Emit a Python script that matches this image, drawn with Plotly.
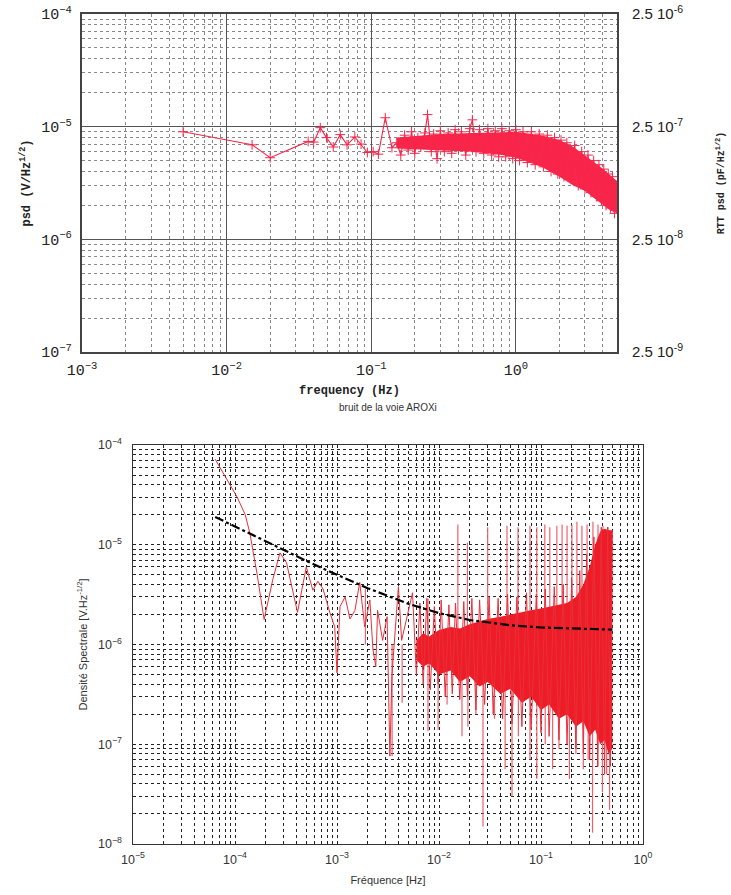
import math
import plotly.graph_objects as go

# ---------------- top panel : psd (V/Hz^1/2) ----------------
top_f_sparse = [0.005, 0.015, 0.02, 0.0366, 0.04, 0.0444, 0.049, 0.0546, 0.061, 0.068,
                0.077, 0.085, 0.094, 0.103, 0.112, 0.125, 0.139, 0.15]
top_y_sparse = [9.0e-6, 6.9e-6, 5.3e-6, 7.4e-6, 7.3e-6, 9.8e-6, 8.0e-6, 6.6e-6, 8.5e-6, 6.9e-6,
                8.1e-6, 7.0e-6, 5.9e-6, 6.0e-6, 5.7e-6, 1.2e-5, 6.5e-6, 7.2e-6]

top_f_dense = [0.15, 0.16, 0.17, 0.18, 0.19, 0.2, 0.21, 0.22, 0.235, 0.245, 0.26, 0.27, 0.285,
               0.3, 0.32, 0.34, 0.36, 0.38, 0.4, 0.42, 0.45, 0.48, 0.5, 0.53, 0.56, 0.6, 0.64,
               0.68, 0.72, 0.76, 0.8, 0.85, 0.9, 0.95, 1.0, 1.06, 1.12, 1.2, 1.28, 1.36, 1.45,
               1.55, 1.65, 1.75, 1.85, 1.95, 2.05, 2.15, 2.25, 2.4, 2.55, 2.7, 2.85, 3.0, 3.15,
               3.3, 3.45, 3.6, 3.75, 3.9, 4.05, 4.2, 4.35, 4.5, 4.65, 4.8, 4.95]
top_y_dense = [7.8e-6, 5.6e-6, 8.4e-6, 6.2e-6, 9.0e-6, 5.8e-6, 8.0e-6, 6.6e-6, 8.8e-6, 1.28e-5,
               6.0e-6, 8.6e-6, 5.2e-6, 9.2e-6, 6.0e-6, 8.8e-6, 5.8e-6, 9.4e-6, 6.4e-6, 9.0e-6,
               5.6e-6, 9.6e-6, 1.15e-5, 6.0e-6, 9.4e-6, 5.8e-6, 9.6e-6, 5.6e-6, 9.2e-6, 5.4e-6,
               9.6e-6, 5.4e-6, 9.2e-6, 5.2e-6, 9.4e-6, 5.0e-6, 9.0e-6, 4.8e-6, 9.0e-6, 4.6e-6,
               8.6e-6, 4.4e-6, 8.4e-6, 4.0e-6, 8.0e-6, 3.8e-6, 7.6e-6, 3.6e-6, 7.2e-6, 3.4e-6,
               6.8e-6, 3.0e-6, 6.0e-6, 2.8e-6, 5.6e-6, 2.6e-6, 5.0e-6, 2.4e-6, 4.6e-6, 2.2e-6,
               4.2e-6, 2.0e-6, 3.8e-6, 1.9e-6, 3.6e-6, 1.7e-6, 3.0e-6]

top_band_f = [0.15, 0.3, 0.5, 0.8, 1.0, 1.5, 2.0, 2.5, 3.0, 3.5, 4.0, 4.5, 5.0]
top_band_hi = [8.0e-6, 8.6e-6, 8.8e-6, 9.0e-6, 9.0e-6, 8.4e-6, 7.6e-6, 6.6e-6, 5.6e-6, 4.8e-6,
               4.2e-6, 3.7e-6, 3.3e-6]
top_band_lo = [6.4e-6, 6.2e-6, 6.0e-6, 5.6e-6, 5.3e-6, 4.4e-6, 3.6e-6, 3.0e-6, 2.7e-6, 2.3e-6,
               2.0e-6, 1.8e-6, 1.7e-6]

# RTT scale on the right: pF = 0.025 * V
rtt_factor = 0.025
right_ticks = [2.5e-9, 2.5e-8, 2.5e-7, 2.5e-6]
right_text = ["2.5 10<sup>-9</sup>", "2.5 10<sup>-8</sup>", "2.5 10<sup>-7</sup>", "2.5 10<sup>-6</sup>"]

# ---------------- bottom panel : bruit de la voie AROXi ----------------
bot_f = [6.4e-5, 8.3e-5, 1.05e-4, 1.26e-4, 1.4e-4, 1.64e-4, 1.93e-4, 2.35e-4, 2.76e-4, 3.2e-4,
         4.1e-4, 5.0e-4, 5.8e-4, 6.5e-4, 7.3e-4, 8.5e-4, 9.5e-4, 1.0e-3, 1.07e-3, 1.2e-3,
         1.34e-3, 1.5e-3, 1.67e-3, 1.87e-3, 2.1e-3, 2.25e-3, 2.4e-3, 2.5e-3, 2.8e-3, 3.1e-3,
         3.3e-3, 3.45e-3, 4.0e-3, 4.3e-3, 4.8e-3, 5.5e-3,
         0.006, 0.0065, 0.007, 0.0076, 0.0082, 0.009, 0.0098, 0.0105, 0.0115, 0.0125, 0.0135,
         0.0145, 0.016, 0.0175, 0.019, 0.021, 0.023, 0.025, 0.028, 0.031, 0.034, 0.038, 0.042,
         0.047, 0.052, 0.058, 0.065, 0.072, 0.08, 0.09, 0.1, 0.11, 0.12, 0.135, 0.15, 0.165,
         0.18, 0.2, 0.22, 0.24, 0.26, 0.28, 0.3, 0.33, 0.36, 0.39, 0.42, 0.45, 0.48, 0.5]
bot_y = [7.2e-5, 4.5e-5, 3.0e-5, 2.0e-5, 1.3e-5, 5.2e-6, 1.78e-6, 4.5e-6, 8.3e-6, 6.6e-6,
         2.1e-6, 6.0e-6, 3.5e-6, 4.3e-6, 3.6e-6, 2.1e-6, 1.5e-6, 5.2e-7, 2.4e-6, 3.0e-6,
         1.8e-6, 2.2e-6, 4.2e-6, 1.5e-6, 2.8e-6, 9.0e-7, 6.0e-7, 2.2e-6, 1.1e-6, 1.9e-6,
         7.6e-8, 4.8e-7, 3.8e-6, 1.1e-6, 1.8e-6, 3.3e-6,
         5.0e-7, 2.6e-6, 4.0e-7, 2.9e-6, 3.5e-7, 2.4e-6, 4.0e-7, 2.8e-6, 3.0e-7, 2.5e-6, 3.2e-7,
         2.6e-6, 2.8e-7, 2.7e-6, 3.0e-7, 2.9e-6, 2.2e-7, 2.8e-6, 2.5e-7, 3.0e-6, 2.0e-7, 2.9e-6,
         1.8e-7, 3.2e-6, 1.6e-7, 3.0e-6, 1.5e-7, 3.3e-6, 1.4e-7, 3.2e-6, 1.3e-7, 3.6e-6, 1.2e-7,
         3.8e-6, 1.1e-7, 4.0e-6, 1.0e-7, 4.5e-6, 9.0e-8, 5.5e-6, 8.0e-8, 8.0e-6, 7.0e-8, 1.2e-5,
         6.0e-8, 1.5e-5, 5.0e-8, 1.5e-5, 6.0e-8, 1.4e-5]

band_f = [0.006, 0.007, 0.008, 0.01, 0.013, 0.016, 0.02, 0.025, 0.03, 0.04, 0.05, 0.065, 0.08,
          0.1, 0.12, 0.15, 0.18, 0.22, 0.26, 0.3, 0.34, 0.38, 0.42, 0.46, 0.5]
band_hi = [1.1e-6, 1.3e-6, 1.2e-6, 1.4e-6, 1.5e-6, 1.45e-6, 1.6e-6, 1.7e-6, 1.8e-6, 1.9e-6,
           2.0e-6, 2.1e-6, 2.2e-6, 2.3e-6, 2.4e-6, 2.5e-6, 2.6e-6, 3.0e-6, 4.0e-6, 6.0e-6,
           1.0e-5, 1.35e-5, 1.45e-5, 1.4e-5, 1.4e-5]
band_lo = [7.0e-7, 6.0e-7, 6.5e-7, 5.0e-7, 5.5e-7, 4.2e-7, 4.8e-7, 3.8e-7, 4.2e-7, 3.2e-7,
           3.6e-7, 2.6e-7, 3.0e-7, 2.2e-7, 2.5e-7, 1.8e-7, 2.0e-7, 1.5e-7, 1.7e-7, 1.2e-7,
           1.4e-7, 1.0e-7, 1.1e-7, 8.0e-8, 9.0e-8]

up_f = [0.0153, 0.0300, 0.0464, 0.0595, 0.078, 0.091, 0.109, 0.122, 0.143, 0.161, 0.180,
        0.201, 0.225, 0.252, 0.283, 0.323, 0.362, 0.405, 0.454, 0.0019, 0.0078, 0.019]
up_y = [1.6e-5, 1.5e-5, 1.55e-5, 1.5e-5, 1.55e-5, 1.5e-5, 1.6e-5, 1.5e-5, 1.55e-5, 1.6e-5,
        1.55e-5, 1.6e-5, 1.7e-5, 1.55e-5, 1.6e-5, 1.7e-5, 1.6e-5, 1.55e-5, 1.5e-5, 3.6e-6,
        2.9e-6, 1.05e-5]

dn_f = [3.47e-3, 4.35e-3, 7.8e-3, 9.8e-3, 1.68e-2, 1.92e-2, 2.7e-2, 4.45e-2, 5.2e-2, 7.8e-2,
        9.1e-2, 0.13, 0.19, 0.26, 0.32, 0.40, 0.47, 0.012, 0.023, 0.035, 0.06, 0.11, 0.15,
        0.22, 0.29, 0.36, 0.44]
dn_y = [7.6e-8, 2.6e-7, 1.35e-7, 1.4e-7, 1.2e-7, 1.5e-7, 1.5e-8, 5.6e-8, 3.0e-8, 7.0e-8,
        4.5e-8, 5.6e-8, 4.5e-8, 5.6e-8, 1.3e-8, 3.3e-8, 2.2e-8, 2.5e-7, 2.0e-7, 1.8e-7,
        1.2e-7, 1.0e-7, 9.0e-8, 8.0e-8, 7.0e-8, 6.0e-8, 5.0e-8]
spike_base = 1.0e-6

fit_f = [6.4e-5, 1e-4, 2e-4, 5e-4, 1e-3, 2e-3, 5e-3, 1e-2, 2e-2, 5e-2, 0.1, 0.2, 0.5]
fit_y = [1.9e-5, 1.52e-5, 1.08e-5, 6.9e-6, 5.0e-6, 3.67e-6, 2.56e-6, 2.06e-6, 1.76e-6,
         1.56e-6, 1.48e-6, 1.44e-6, 1.41e-6]

W, H = 731, 895
TOP = dict(l=82, r=617, t=14, b=352)
BOT = dict(l=133, r=643, t=445, b=844)

RED_TOP = "#f8264a"
RED = "#ee1c26"
PINK = "#f0606e"


def segments(xs, ys, base):
    sx, sy = [], []
    for x, y in zip(xs, ys):
        sx += [x, x, None]
        sy += [base, y, None]
    return sx, sy


fig = go.Figure()

# top panel
fig.add_trace(go.Scatter(x=top_band_f, y=top_band_lo, mode="lines", line=dict(width=0),
                         hoverinfo="skip", showlegend=False, xaxis="x", yaxis="y"))
fig.add_trace(go.Scatter(x=top_band_f, y=top_band_hi, mode="lines", line=dict(width=0),
                         fill="tonexty", fillcolor=RED_TOP, hoverinfo="skip",
                         showlegend=False, xaxis="x", yaxis="y"))
fig.add_trace(go.Scatter(x=top_f_sparse + top_f_dense[1:], y=top_y_sparse + top_y_dense[1:],
                         mode="lines+markers", line=dict(color=RED_TOP, width=1.1),
                         marker=dict(symbol="cross-thin", size=7, line=dict(color=RED_TOP, width=1)),
                         showlegend=False, xaxis="x", yaxis="y"))
# same band expressed on the RTT scale (hidden, keeps the right axis alive)
fig.add_trace(go.Scatter(x=top_band_f, y=[v * rtt_factor for v in top_band_hi], mode="lines",
                         line=dict(width=0, color="rgba(0,0,0,0)"), hoverinfo="skip",
                         showlegend=False, xaxis="x", yaxis="y3"))

# bottom panel
sx, sy = segments(dn_f, dn_y, spike_base)
fig.add_trace(go.Scatter(x=sx, y=sy, mode="lines", line=dict(color=PINK, width=1.2),
                         connectgaps=False, showlegend=False, xaxis="x2", yaxis="y2"))
sx, sy = segments(up_f, up_y, spike_base)
fig.add_trace(go.Scatter(x=sx, y=sy, mode="lines", line=dict(color=PINK, width=1.2),
                         connectgaps=False, showlegend=False, xaxis="x2", yaxis="y2"))
fig.add_trace(go.Scatter(x=band_f, y=band_lo, mode="lines", line=dict(width=0),
                         hoverinfo="skip", showlegend=False, xaxis="x2", yaxis="y2"))
fig.add_trace(go.Scatter(x=band_f, y=band_hi, mode="lines", line=dict(width=0),
                         fill="tonexty", fillcolor=RED, hoverinfo="skip",
                         showlegend=False, xaxis="x2", yaxis="y2"))
fig.add_trace(go.Scatter(x=bot_f, y=bot_y, mode="lines", line=dict(color="#e8303c", width=1),
                         showlegend=False, xaxis="x2", yaxis="y2"))
fig.add_trace(go.Scatter(x=fit_f, y=fit_y, mode="lines",
                         line=dict(color="black", width=2.2, dash="dashdot"),
                         showlegend=False, xaxis="x2", yaxis="y2"))


def dom_x(b):
    return [b["l"] / W, b["r"] / W]


def dom_y(b):
    return [1 - b["b"] / H, 1 - b["t"] / H]


top_font = dict(family="Liberation Mono, monospace", size=12, color="#222")
bot_font = dict(family="Liberation Sans, Arial, sans-serif", size=10, color="#333")
alias = {"1": "10<sup>0</sup>"}

top_axis = dict(type="log", dtick=1, exponentformat="power", showline=True, mirror=True,
                linecolor="#444", linewidth=1.5, ticks="", showgrid=True, gridcolor="#555",
                gridwidth=1.3, zeroline=False, tickfont=top_font, automargin=False,
                labelalias=alias, ticklabeloverflow="allow",
                minor=dict(dtick="D1", showgrid=True, gridcolor="#888", griddash="dot",
                           gridwidth=1))
bot_axis = dict(type="log", dtick=1, exponentformat="power", showline=True, mirror=True,
                linecolor="#333", linewidth=1.2, ticks="", showgrid=True, gridcolor="#222",
                griddash="dot", gridwidth=1, zeroline=False, tickfont=bot_font,
                automargin=False, labelalias=alias, ticklabeloverflow="allow",
                minor=dict(dtick="D1", showgrid=True, gridcolor="#222", griddash="dot",
                           gridwidth=1))

fig.update_layout(
    width=W, height=H, margin=dict(l=0, r=0, t=0, b=0),
    paper_bgcolor="white", plot_bgcolor="white", showlegend=False,
    xaxis=dict(top_axis, domain=dom_x(TOP), anchor="y", range=[-3, math.log10(5)],
               ticklabelstandoff=4,
               title=dict(text="<b>frequency (Hz)</b>", font=top_font, standoff=6)),
    yaxis=dict(top_axis, domain=dom_y(TOP), anchor="x", range=[-7, -4],
               ticklabelstandoff=6,
               title=dict(text="<b>psd (V/Hz<sup>1/2</sup>)</b>", font=top_font, standoff=8)),
    yaxis3=dict(type="log", overlaying="y", side="right", anchor="x", automargin=False,
                range=[math.log10(2.5e-9), math.log10(2.5e-6)], ticklabeloverflow="allow",
                tickvals=right_ticks, ticktext=right_text, showgrid=False, zeroline=False,
                showline=False, ticks="", ticklabelstandoff=14,
                tickfont=dict(family="Liberation Sans, Arial, sans-serif", size=15, color="#222"),
                title=dict(text="<b>RTT psd (pF/Hz<sup>1/2</sup>)</b>",
                           font=dict(family="Liberation Mono, monospace", size=10, color="#222"),
                           standoff=34)),
    xaxis2=dict(bot_axis, domain=dom_x(BOT), anchor="y2", range=[-5, 0],
                ticklabelstandoff=4,
                title=dict(text="Fréquence [Hz]", font=dict(bot_font, size=11), standoff=10)),
    yaxis2=dict(bot_axis, domain=dom_y(BOT), anchor="x2", range=[-8, -4],
                ticklabelstandoff=8,
                title=dict(text="Densité Spectrale [V.Hz<sup>-1/2</sup>]",
                           font=dict(bot_font, size=11), standoff=8)),
    annotations=[dict(text="bruit de la voie AROXi", xref="paper", yref="paper",
                      x=(BOT["l"] + BOT["r"]) / 2 / W, y=1 - 408 / H,
                      showarrow=False, font=dict(bot_font, size=10),
                      xanchor="center", yanchor="middle")],
)

# drop the default page margin so the figure sits at the window's corner
fig.write_html("out.html", config={"displayModeBar": False},
               post_script="document.body.style.margin='0';")
